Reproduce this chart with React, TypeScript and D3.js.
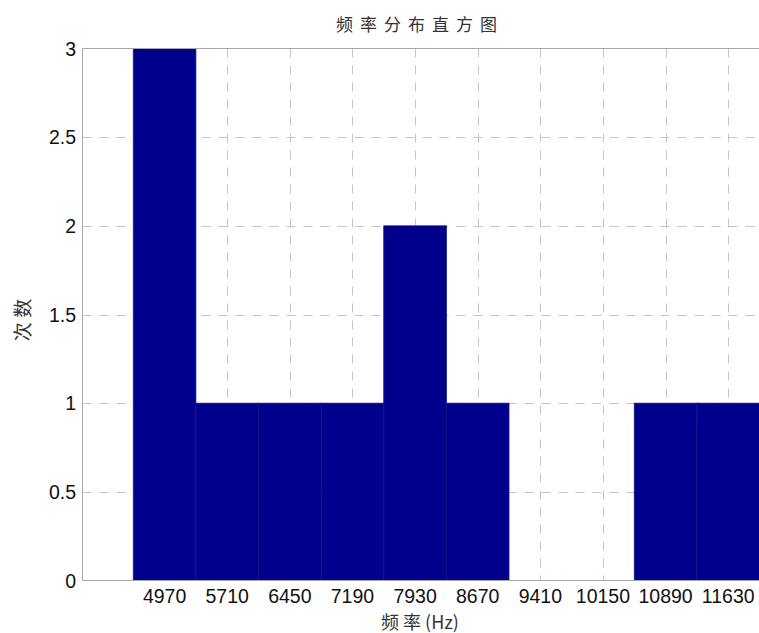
import React from "react";
import * as d3 from "d3";

const binCenters = [4970, 5710, 6450, 7190, 7930, 8670, 9410, 10150, 10890, 11630];
const counts = [3, 1, 1, 1, 2, 1, 0, 0, 1, 1];
const yTicks = [0, 0.5, 1, 1.5, 2, 2.5, 3];
const binWidth = 740;
const title = "频率分布直方图";
const xLabel = "频 率 (Hz)";
const yLabel = "次 数";

export default function App() {
  const W = 759, H = 633;
  const left = 82.5, right = 759.5, top = 48.5, bottom = 580.5;
  const x = d3.scaleLinear().domain([4000, 12000]).range([left, right]);
  const y = d3.scaleLinear().domain([0, 3]).range([bottom, top]);
  const grid = "#c4c4c4";
  const axis = "#a8a8a8";
  const font = "Arial, 'Liberation Sans', sans-serif";
  const cjk = "'Noto Sans CJK SC', sans-serif";
  return (
    <svg width={W} height={H} style={{ position: "absolute", left: 0, top: 0, background: "#fff" }}>
      <rect x={0} y={0} width={W} height={H} fill="#fff" />
      {binCenters.map((c) => (
        <line key={"vg" + c} x1={Math.round(x(c)) + 0.5} x2={Math.round(x(c)) + 0.5} y1={top} y2={bottom}
          stroke={grid} strokeWidth={1} strokeDasharray="9,8" />
      ))}
      {yTicks.slice(1, -1).map((t) => (
        <line key={"hg" + t} x1={left} x2={right} y1={Math.round(y(t)) + 0.5} y2={Math.round(y(t)) + 0.5}
          stroke={grid} strokeWidth={1} strokeDasharray="9,8" />
      ))}
      {binCenters.map((c, i) =>
        counts[i] > 0 ? (
          <rect key={"b" + c} x={x(c - binWidth / 2)} y={y(counts[i])}
            width={x(c + binWidth / 2) - x(c - binWidth / 2)} height={y(0) - y(counts[i])}
            fill="#00008c" stroke="#14148a" strokeWidth={0.8} />
        ) : null
      )}
      <line x1={left} x2={right} y1={top} y2={top} stroke={axis} />
      <line x1={left} x2={right} y1={bottom} y2={bottom} stroke={axis} />
      <line x1={left} x2={left} y1={top} y2={bottom} stroke={axis} />
      {yTicks.map((t) => (
        <text key={"yt" + t} x={76} y={y(t)} dy="0.36em" textAnchor="end" fontFamily={font} fontSize={19.5} fill="#111">
          {t}
        </text>
      ))}
      {binCenters.map((c) => (
        <text key={"xt" + c} x={x(c)} y={603} textAnchor="middle" fontFamily={font} fontSize={19.5} fill="#111">
          {c}
        </text>
      ))}
      <text x={420} y={31} textAnchor="middle" fontFamily={cjk} fontSize={17}
        letterSpacing={7} fill="#333">
        {title}
      </text>
      <text x={420} y={629} textAnchor="middle" fontFamily={"'Noto Sans CJK SC', " + font} fontSize={18}
        fill="#333">
        {xLabel}
      </text>
      <text transform={`translate(30,320) rotate(-90)`} textAnchor="middle"
        fontFamily={cjk} fontSize={19} fill="#333">
        {yLabel}
      </text>
    </svg>
  );
}
